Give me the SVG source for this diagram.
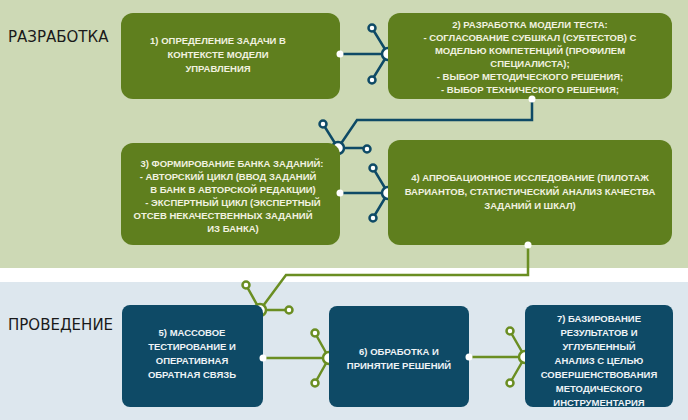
<svg xmlns="http://www.w3.org/2000/svg" width="688" height="420" viewBox="0 0 688 420">
<style>
.g{fill:#5f7f1e}.b{fill:#0e4a66}
.t{font-family:"Liberation Sans",Arial,sans-serif;font-weight:bold;font-size:9.5px;fill:#f2f2e0;text-anchor:middle}
.tb{font-family:"Liberation Sans",Arial,sans-serif;font-weight:bold;font-size:9.5px;fill:#eef3f6;text-anchor:middle}
.h{font-family:"DejaVu Sans",sans-serif;font-size:15px;fill:#1a1a1a}
.cd{stroke:#0e4a66;stroke-width:2.5;fill:none}
.cg{stroke:#6a8e22;stroke-width:2.5;fill:none}
.sd{fill:#fff;stroke:#0e4a66;stroke-width:2.5}
.sg{fill:#fff;stroke:#6a8e22;stroke-width:2.5}
.dw{fill:#fff}
</style>
<rect x="0" y="0" width="688" height="268" fill="#cdd9b5"/>
<rect x="0" y="268" width="688" height="14" fill="#fff"/>
<rect x="0" y="282" width="688" height="138" fill="#dde7ee"/>
<text class="h" x="8" y="42">РАЗРАБОТКА</text>
<text class="h" x="8" y="330">ПРОВЕДЕНИЕ</text>
<g id="connectors">
<path class="cd" d="M340 54H388M388 54L372 28M388 54L372 80"/>
<circle class="sd" cx="372" cy="28" r="3.5"/><circle class="sd" cx="372" cy="80" r="3.5"/><circle class="sd" cx="388" cy="54" r="6"/>
<path class="cd" d="M532 99V120H357L338 148M338 148L323 124M338 148H367"/>
<circle class="sd" cx="323" cy="124" r="3.5"/><circle class="sd" cx="367" cy="149" r="3.5"/><circle class="sd" cx="338" cy="148" r="6"/>
<path class="cd" d="M340 193H388M388 193L373 168M388 193L373 218"/>
<circle class="sd" cx="373" cy="168" r="3.5"/><circle class="sd" cx="373" cy="218" r="3.5"/><circle class="sd" cx="388" cy="193" r="6"/>
<path class="cg" d="M528 245V275H286L260 310M260 310L246 285M260 310H289"/>
<circle class="sg" cx="246" cy="285" r="3.5"/><circle class="sg" cx="289" cy="310" r="3.5"/><circle class="sg" cx="260" cy="310" r="6"/>
<path class="cg" d="M263 358H329M329 358L315 333M329 358L315 383"/>
<circle class="sg" cx="315" cy="333" r="3.5"/><circle class="sg" cx="315" cy="383" r="3.5"/><circle class="sg" cx="329" cy="358" r="6"/>
<path class="cg" d="M469 357H525M525 357L510 331M525 357L510 383"/>
<circle class="sg" cx="510" cy="331" r="3.5"/><circle class="sg" cx="510" cy="383" r="3.5"/><circle class="sg" cx="525" cy="357" r="6"/>
</g>
<g id="n1"><rect class="g" x="121" y="13" width="219" height="86" rx="12"/>
<text class="t" x="218" y="44">1) ОПРЕДЕЛЕНИЕ ЗАДАЧИ В</text><text class="t" x="218" y="58">КОНТЕКСТЕ МОДЕЛИ</text><text class="t" x="218" y="72">УПРАВЛЕНИЯ</text>
<circle class="dw" cx="340" cy="54" r="3.5"/></g>
<g id="n2"><rect class="g" x="388" y="13" width="284" height="86" rx="12"/>
<text class="t" x="530" y="28">2) РАЗРАБОТКА МОДЕЛИ ТЕСТА:</text>
<text class="t" x="530" y="41">- СОГЛАСОВАНИЕ СУБШКАЛ (СУБТЕСТОВ) С</text>
<text class="t" x="530" y="54">МОДЕЛЬЮ КОМПЕТЕНЦИЙ (ПРОФИЛЕМ</text>
<text class="t" x="530" y="67">СПЕЦИАЛИСТА);</text>
<text class="t" x="530" y="80">- ВЫБОР МЕТОДИЧЕСКОГО РЕШЕНИЯ;</text>
<text class="t" x="530" y="93">- ВЫБОР ТЕХНИЧЕСКОГО РЕШЕНИЯ;</text>
<circle class="dw" cx="532" cy="99" r="3.5"/></g>
<g id="n3"><rect class="g" x="121" y="143" width="219" height="102" rx="12"/>
<text class="t" x="232" y="167">3) ФОРМИРОВАНИЕ БАНКА ЗАДАНИЙ:</text>
<text class="t" x="228" y="180">- АВТОРСКИЙ ЦИКЛ (ВВОД ЗАДАНИЙ</text>
<text class="t" x="233" y="193">В БАНК В АВТОРСКОЙ РЕДАКЦИИ)</text>
<text class="t" x="233" y="206">- ЭКСПЕРТНЫЙ ЦИКЛ  (ЭКСПЕРТНЫЙ</text>
<text class="t" x="223" y="219">ОТСЕВ НЕКАЧЕСТВЕННЫХ ЗАДАНИЙ</text>
<text class="t" x="233" y="232">ИЗ БАНКА)</text>
<circle class="dw" cx="340" cy="193" r="3.5"/></g>
<g id="n4"><rect class="g" x="388" y="140" width="284" height="105" rx="12"/>
<text class="t" x="530" y="181">4) АПРОБАЦИОННОЕ ИССЛЕДОВАНИЕ (ПИЛОТАЖ</text>
<text class="t" x="530" y="195">ВАРИАНТОВ, СТАТИСТИЧЕСКИЙ АНАЛИЗ КАЧЕСТВА</text>
<text class="t" x="530" y="209">ЗАДАНИЙ И ШКАЛ)</text>
<circle class="dw" cx="528" cy="245" r="3.5"/></g>
<g id="n5"><rect class="b" x="122" y="305" width="141" height="102" rx="8"/>
<text class="tb" x="192" y="336">5) МАССОВОЕ</text><text class="tb" x="192" y="350">ТЕСТИРОВАНИЕ И</text><text class="tb" x="192" y="364">ОПЕРАТИВНАЯ</text><text class="tb" x="192" y="378">ОБРАТНАЯ СВЯЗЬ</text>
<circle class="dw" cx="263" cy="358" r="3.5"/></g>
<g id="n6"><rect class="b" x="329" y="306" width="140" height="101" rx="8"/>
<text class="tb" x="399" y="355">6) ОБРАБОТКА И</text><text class="tb" x="399" y="369">ПРИНЯТИЕ РЕШЕНИЙ</text>
<circle class="dw" cx="469" cy="357" r="3.5"/></g>
<g id="n7"><rect class="b" x="525" y="305" width="148" height="102" rx="8"/>
<text class="tb" x="599" y="322">7) БАЗИРОВАНИЕ</text><text class="tb" x="599" y="336">РЕЗУЛЬТАТОВ И</text><text class="tb" x="599" y="350">УГЛУБЛЕННЫЙ</text><text class="tb" x="599" y="364">АНАЛИЗ С ЦЕЛЬЮ</text><text class="tb" x="599" y="378">СОВЕРШЕНСТВОВАНИЯ</text><text class="tb" x="599" y="392">МЕТОДИЧЕСКОГО</text><text class="tb" x="599" y="406">ИНСТРУМЕНТАРИЯ</text>
</g>
</svg>
